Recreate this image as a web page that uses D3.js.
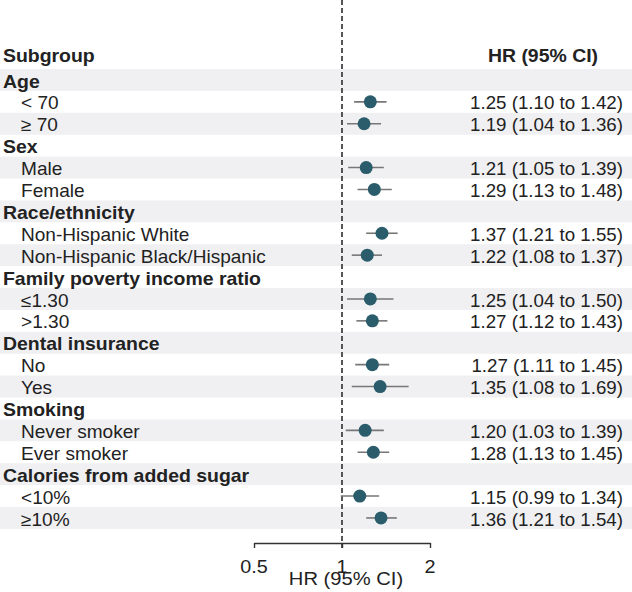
<!DOCTYPE html>
<html><head><meta charset="utf-8">
<script src="https://cdn.jsdelivr.net/npm/d3@7"></script>
<style>body{margin:0;background:#fff}svg{display:block}text{font-family:"Liberation Sans",Arial,sans-serif}</style>
</head><body><svg id="c" width="632" height="592"></svg>
<script>
const labels = ["Age","< 70","≥ 70","Sex","Male","Female","Race/ethnicity","Non-Hispanic White","Non-Hispanic Black/Hispanic","Family poverty income ratio","≤1.30",">1.30","Dental insurance","No","Yes","Smoking","Never smoker","Ever smoker","Calories from added sugar","<10%","≥10%"];
const isHeader = [1,0,0,1,0,0,1,0,0,1,0,0,1,0,0,1,0,0,1,0,0];
const hr = [null,1.25,1.19,null,1.21,1.29,null,1.37,1.22,null,1.25,1.27,null,1.27,1.35,null,1.20,1.28,null,1.15,1.36];
const lo = [null,1.10,1.04,null,1.05,1.13,null,1.21,1.08,null,1.04,1.12,null,1.11,1.08,null,1.03,1.13,null,0.99,1.21];
const hi = [null,1.42,1.36,null,1.39,1.48,null,1.55,1.37,null,1.50,1.43,null,1.45,1.69,null,1.39,1.45,null,1.34,1.54];
const ticks = [0.5,1,2];
const tickLabels = ["0.5","1","2"];

const svg = d3.select("#c");
const rowTop = 69, rowH = 21.9;
const x = d3.scaleLog().domain([0.5,2]).range([254,430]);
const y = d3.scaleBand().domain(d3.range(labels.length)).range([rowTop, rowTop + rowH*labels.length]).padding(0);
const fs = 18, sx = 1.06, sxB = 1.08;

function txt(px, py, s, opts={}) {
  const g = svg.append("g").attr("transform", `translate(${px},${py})`);
  g.append("text").attr("transform", `scale(${opts.sx||sx},1)`)
    .attr("text-anchor", opts.anchor||"start")
    .attr("font-size", fs).attr("font-weight", opts.bold?"bold":"normal")
    .attr("fill", "#222").text(s);
}

// bands
svg.selectAll("rect.band").data(d3.range(labels.length).filter(i=>i%2===0)).join("rect")
  .attr("x",0).attr("width",632).attr("y",i=>y(i)).attr("height",y.bandwidth()).attr("fill","#f0f0f2");

// headers
txt(3, 62, "Subgroup", {bold:true, sx:sxB});
txt(543, 62, "HR (95% CI)", {bold:true, sx:sxB, anchor:"middle"});

// labels
labels.forEach((d,i)=>{
  txt(isHeader[i]?3:21, y(i)+18.5, d, {bold:!!isHeader[i], sx: isHeader[i]?sxB:sx});
});

// values
const idx = d3.range(labels.length).filter(i=>hr[i]!=null);
idx.forEach(i=>{
  txt(623, y(i)+18.5, `${hr[i].toFixed(2)} (${lo[i].toFixed(2)} to ${hi[i].toFixed(2)})`, {anchor:"end", sx:1.04});
});

// reference dashed line
svg.append("line").attr("x1",x(1)).attr("x2",x(1)).attr("y1",0).attr("y2",548)
  .attr("stroke","#111").attr("stroke-width",1.4).attr("stroke-dasharray","5,3");

// CIs
svg.selectAll("line.ci").data(idx).join("line").attr("class","ci")
  .attr("x1",i=>x(lo[i])).attr("x2",i=>x(hi[i])).attr("y1",i=>y(i)+y.bandwidth()/2).attr("y2",i=>y(i)+y.bandwidth()/2)
  .attr("stroke","#777").attr("stroke-width",1.6);
svg.selectAll("circle.pt").data(idx).join("circle").attr("class","pt")
  .attr("cx",i=>x(hr[i])).attr("cy",i=>y(i)+y.bandwidth()/2).attr("r",6.5).attr("fill","#2a5c6b");

// axis
const ax = svg.append("g").attr("transform","translate(0,543)")
  .call(d3.axisBottom(x).tickValues(ticks).tickFormat(()=>"").tickSizeOuter(0).tickSizeInner(5));
ax.select(".domain").attr("stroke","#333").attr("stroke-width",1.4);
ax.selectAll(".tick line").attr("stroke","#333").attr("stroke-width",1.4);
ticks.forEach((t,i)=>txt(x(t), 573, tickLabels[i], {anchor:"middle", sx:1.1}));
txt(346, 585, "HR (95% CI)", {anchor:"middle", sx:1.12});
</script></body></html>
